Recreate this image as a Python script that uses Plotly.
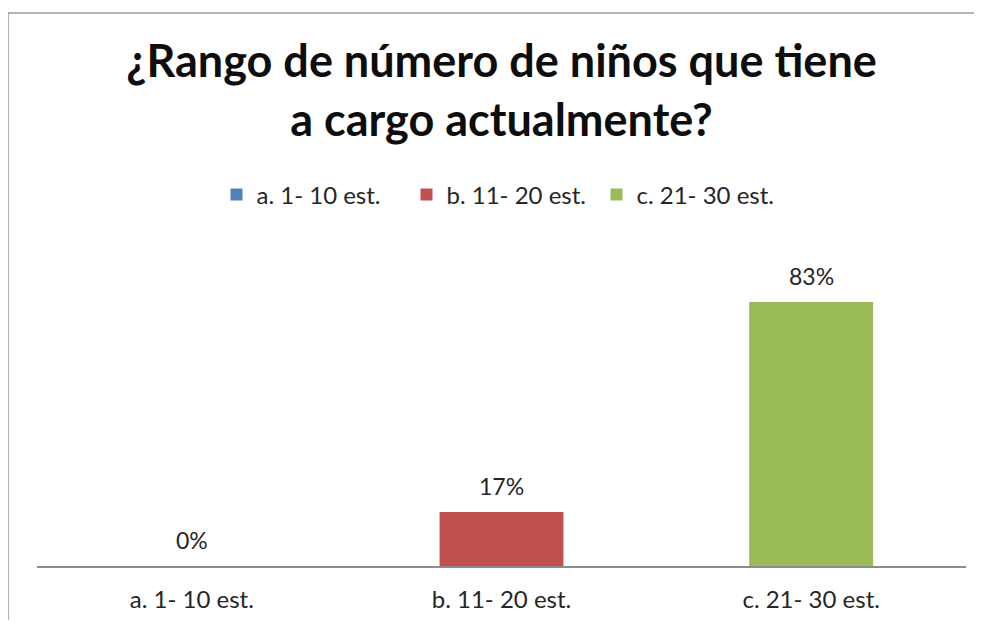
import plotly.graph_objects as go

categories = ["a. 1- 10 est.", "b. 11- 20 est.", "c. 21- 30 est."]
values = [0.0, 0.17, 0.83]
labels = ["0%", "17%", "83%"]
colors = ["#4F81BD", "#C0504D", "#9BBB59"]
title_text = "¿Rango de número de niños que tiene<br>a cargo actualmente?"

# page body has an 8px margin; figure coordinates = screen - 8
OFF = 8
W, H = 966, 612
ml, mr, mt, mb = 29, 8, 240, 54
pw, ph = W - ml - mr, H - mt - mb

fig = go.Figure()
for c, v, t, col in zip(categories, values, labels, colors):
    fig.add_trace(go.Bar(
        x=[c], y=[v], name=c, marker=dict(color=col, line=dict(width=0)),
        cliponaxis=False,
    ))

annotations = []
for c, v, t in zip(categories, values, labels):
    annotations.append(dict(
        x=c, y=v, xref="x", yref="y", text=t, showarrow=False,
        yanchor="bottom", yshift=10,
        font=dict(family="Lato", size=23, color="#262626"),
    ))


def px_x(p):
    return (p - OFF - ml) / pw


def px_y(p):
    return (H - mb - (p - OFF)) / ph


fig.update_layout(
    width=W, height=H,
    margin=dict(l=ml, r=mr, t=mt, b=mb),
    paper_bgcolor="white", plot_bgcolor="white",
    barmode="overlay", bargap=0.6,
    title=dict(text=title_text, x=0.5, xanchor="center", xref="paper",
               y=0.887, yanchor="top",
               font=dict(family="Lato", size=45, color="#0d0d0d", weight="bold")),
    legend=dict(orientation="h", x=0.5, xanchor="center", y=px_y(195), yanchor="middle",
                font=dict(family="Lato", size=24, color="#262626"),
                itemwidth=30, traceorder="normal", entrywidth=145),
    xaxis=dict(showline=True, linecolor="#8c8c8c", linewidth=1.5, ticks="",
               tickfont=dict(family="Lato", size=24, color="#262626"),
               ticklabelstandoff=11,
               showgrid=False, zeroline=False),
    yaxis=dict(range=[0, 1], visible=False, showgrid=False, zeroline=False),
    annotations=annotations,
    shapes=[dict(type="rect", xref="paper", yref="paper",
                 x0=px_x(8), x1=px_x(1010), y0=px_y(680), y1=px_y(13),
                 line=dict(color="#999999", width=1.5), fillcolor="rgba(0,0,0,0)",
                 layer="above")],
)

fig.write_html("out.html")
